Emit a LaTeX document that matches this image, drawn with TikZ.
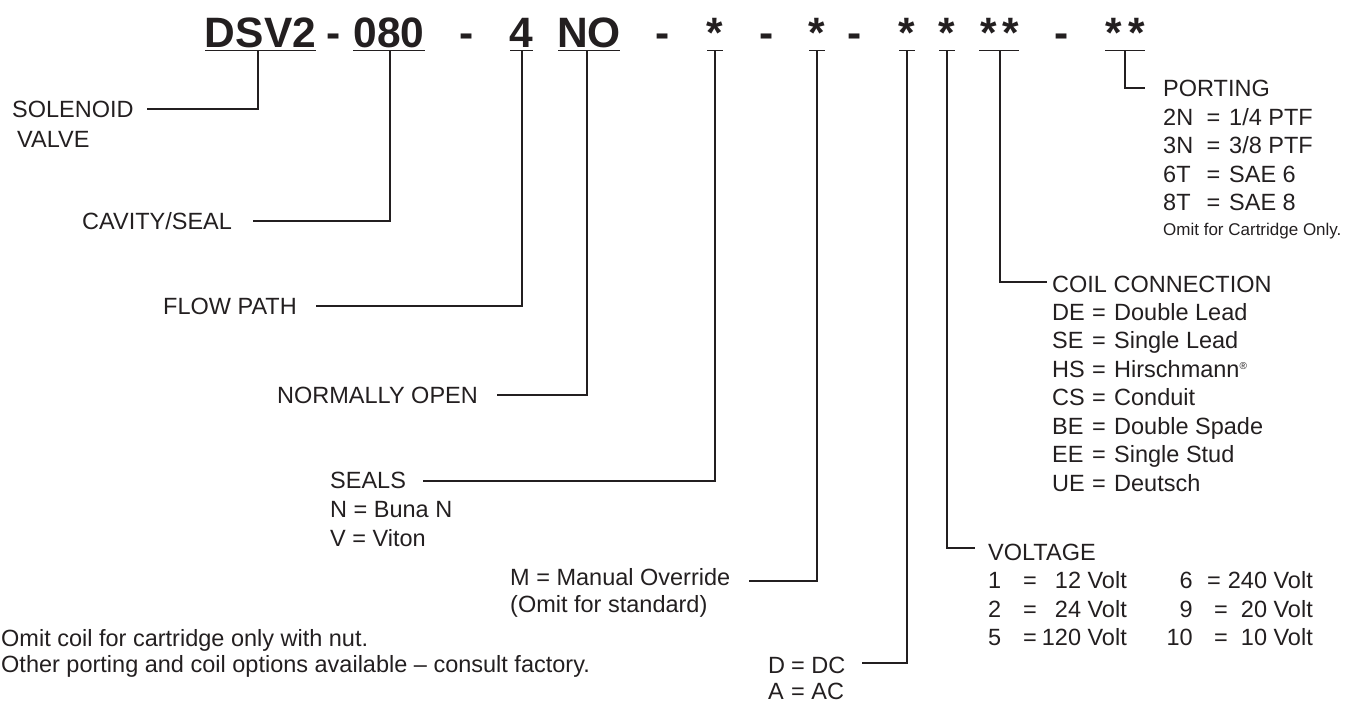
\documentclass[tikz,border=0pt]{standalone}
\usepackage{fontspec}
\setmainfont{Liberation Sans}
\definecolor{ink}{HTML}{231F20}
\begin{document}
\begin{tikzpicture}[x=1pt,y=-1pt,
  lbl/.style={anchor=base west, inner sep=0pt, text=ink, font=\fontsize{23.5}{28}\selectfont},
  lblr/.style={anchor=base east, inner sep=0pt, text=ink, font=\fontsize{23.5}{28}\selectfont},
  eqc/.style={anchor=base, inner sep=0pt, text=ink, font=\fontsize{23.5}{28}\selectfont},
  small/.style={anchor=base west, inner sep=0pt, text=ink, font=\fontsize{17}{20}\selectfont},
  hd/.style={anchor=base, inner sep=0pt, text=ink, font=\fontsize{42.5}{50}\selectfont\bfseries},
  conn/.style={draw=ink, line width=1.2pt},
  uline/.style={draw=ink, line width=1.8pt}]
\useasboundingbox (0,0) rectangle (1368,705);

% ---- header code ----
\node[hd] (hDSV) at (260.5,47) {DSV2};
\node[hd] (hm1) at (334,47) {-};
\node[hd] (h080) at (389,47) {080};
\node[hd] (hm2) at (467,47) {-};
\node[hd] (h4) at (521.5,47) {4};
\node[hd] (hNO) at (589,47) {NO};
\node[hd] (hm3) at (663,47) {-};
\node[hd] (hs1) at (715,47) {*};
\node[hd] (hm4) at (767,47) {-};
\node[hd] (hs2) at (817,47) {*};
\node[hd] (hm5) at (855,47) {-};
\node[hd] (hs3) at (907,47) {*};
\node[hd] (hs4) at (947,47) {*};
\node[hd] (hs5a) at (988.5,47) {*};
\node[hd] (hs5b) at (1010.5,47) {*};
\node[hd] (hm6) at (1062,47) {-};
\node[hd] (hs6a) at (1113.5,47) {*};
\node[hd] (hs6b) at (1136.5,47) {*};

% underlines
\draw[uline] (205,50.5) -- (316,50.5);
\draw[uline] (353,50.5) -- (425,50.5);
\draw[uline] (510,50.5) -- (533,50.5);
\draw[uline] (558,50.5) -- (620,50.5);
\draw[uline] (707,50.5) -- (723,50.5);
\draw[uline] (809,50.5) -- (825,50.5);
\draw[uline] (899,50.5) -- (915,50.5);
\draw[uline] (939,50.5) -- (955,50.5);
\draw[uline] (979,50.5) -- (1019,50.5);
\draw[uline] (1105,50.5) -- (1145,50.5);

% tap points
\coordinate (t1) at (258,50.5);
\coordinate (t2) at (390,50.5);
\coordinate (t3) at (522,50.5);
\coordinate (t4) at (587,50.5);
\coordinate (t5) at (715,50.5);
\coordinate (t6) at (817,50.5);
\coordinate (t7) at (907,50.5);
\coordinate (t8) at (947,50.5);
\coordinate (t9) at (1000,50.5);
\coordinate (t10) at (1125,50.5);

% line ends
\coordinate (e1) at (147,109);
\coordinate (e2) at (253,221);
\coordinate (e3) at (316,306);
\coordinate (e4) at (497,395);
\coordinate (e5) at (423,481);
\coordinate (e6) at (749,581);
\coordinate (e7) at (862,663);
\coordinate (e8) at (975,548);
\coordinate (e9) at (1047,282);
\coordinate (e10) at (1145,88);

\draw[conn] (t1) |- (e1);
\draw[conn] (t2) |- (e2);
\draw[conn] (t3) |- (e3);
\draw[conn] (t4) |- (e4);
\draw[conn] (t5) |- (e5);
\draw[conn] (t6) |- (e6);
\draw[conn] (t7) |- (e7);
\draw[conn] (t8) |- (e8);
\draw[conn] (t9) |- (e9);
\draw[conn] (t10) |- (e10);

% ---- left labels ----
\node[lbl] (sol) at (12,117.5) {SOLENOID};
\node[lbl] (valve) at (17,147) {VALVE};
\node[lbl] (cav) at (82,229) {CAVITY/SEAL};
\node[lbl] (flow) at (163,314.5) {FLOW PATH};
\node[lbl] (nopen) at (277,403.5) {NORMALLY OPEN};
\node[lbl] (seals) at (330,488) {SEALS};
\node[lbl] (sealN) at (330,517) {N = Buna N};
\node[lbl] (sealV) at (330,546) {V = Viton};
\node[lbl] (man) at (510,585) {M = Manual Override};
\node[lbl] (manstd) at (510,612) {(Omit for standard)};
\node[lbl] (dcD) at (768,673) {D};
\node[lbl] (dcDv) at (791,673) {= DC};
\node[lbl] (dcA) at (768,699) {A};
\node[lbl] (dcAv) at (791,699) {= AC};
\node[lbl] (note1) at (1,646) {Omit coil for cartridge only with nut.};
\node[lbl] (note2) at (1,672) {Other porting and coil options available -- consult factory.};

% ---- voltage ----
\node[lbl] (volt) at (988,560) {VOLTAGE};
\node[lbl] (v1k) at (988,588) {1};
\node[eqc] (v1e) at (1030,588) {=};
\node[lblr] (v1v) at (1127,588) {12 Volt};
\node[lblr] (v6k) at (1193,588) {6};
\node[eqc] (v6e) at (1214,588) {=};
\node[lblr] (v6v) at (1313,588) {240 Volt};
\node[lbl] (v2k) at (988,617) {2};
\node[eqc] (v2e) at (1030,617) {=};
\node[lblr] (v2v) at (1127,617) {24 Volt};
\node[lblr] (v9k) at (1193,617) {9};
\node[eqc] (v9e) at (1221,617) {=};
\node[lblr] (v9v) at (1313,617) {20 Volt};
\node[lbl] (v5k) at (988,645) {5};
\node[eqc] (v5e) at (1030,645) {=};
\node[lblr] (v5v) at (1127,645) {120 Volt};
\node[lblr] (v10k) at (1193,645) {10};
\node[eqc] (v10e) at (1221,645) {=};
\node[lblr] (v10v) at (1313,645) {10 Volt};

% ---- coil connection ----
\node[lbl] (coil) at (1052,292) {COIL CONNECTION};
\foreach \k/\v/\y/\n in {DE/Double Lead/320/c1, SE/Single Lead/348.5/c2,
    HS/Hirschmann\raisebox{7.5pt}{\fontsize{10}{10}\selectfont ®}/377/c3, CS/Conduit/405.5/c4,
    BE/Double Spade/434/c5, EE/Single Stud/462.5/c6, UE/Deutsch/491/c7}{
  \node[lbl] (\n k) at (1052,\y) {\k};
  \node[eqc] (\n e) at (1099,\y) {=};
  \node[lbl] (\n v) at (1114,\y) {\v};
}

% ---- porting ----
\node[lbl] (port) at (1163,96) {PORTING};
\foreach \k/\v/\y/\n in {2N/1\slash 4 PTF/125/p1, 3N/3\slash 8 PTF/153.5/p2,
    6T/SAE 6/182/p3, 8T/SAE 8/210.5/p4}{
  \node[lbl] (\n k) at (1163,\y) {\k};
  \node[eqc] (\n e) at (1213.5,\y) {=};
  \node[lbl] (\n v) at (1229,\y) {\v};
}
\node[small] (pomit) at (1163,235) {Omit for Cartridge Only.};
\end{tikzpicture}
\end{document}
